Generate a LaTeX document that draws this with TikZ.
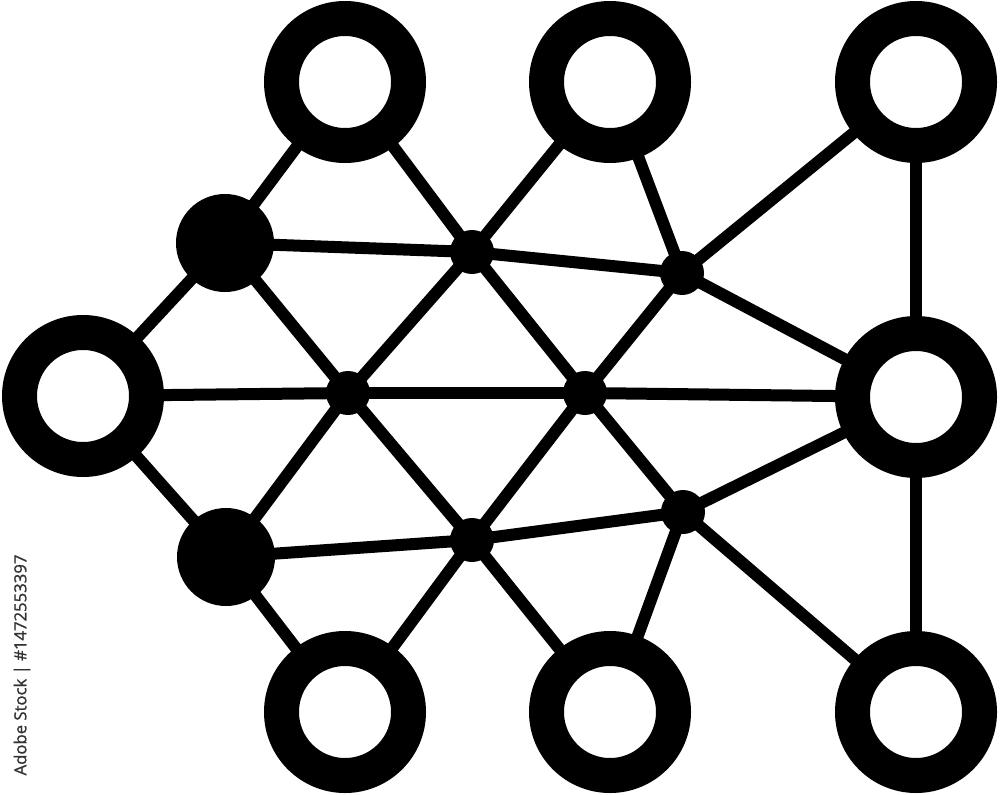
\documentclass[tikz,border=0pt]{standalone}
\usepackage{fontspec}
\newfontfamily\wmfont[FakeBold=1.2]{Open Sans}
\usetikzlibrary{backgrounds}
\begin{document}
\begin{tikzpicture}[x=0.2mm,y=-0.2mm, line join=round, line cap=round,
		ring/.style={circle,draw,fill=white,line width=7mm,minimum size=25.4mm,inner sep=0pt},
		hub/.style={circle,fill,minimum size=19.6mm,inner sep=0pt},
		dot/.style={circle,fill,minimum size=8.8mm,inner sep=0pt},
		link/.style={line width=2.4mm}]
	\useasboundingbox (0,0) rectangle (1000,795);
	% outer rings
	\node[ring] (T1) at (345,82) {};
	\node[ring] (T2) at (610,82) {};
	\node[ring] (T3) at (916,82) {};
	\node[ring] (L) at (83,396) {};
	\node[ring] (R) at (916,397) {};
	\node[ring] (B1) at (345,712) {};
	\node[ring] (B2) at (610,712) {};
	\node[ring] (B3) at (916,712) {};
	% filled hubs and small dots
	\node[hub] (F1) at (225,243) {};
	\node[hub] (F2) at (226,557) {};
	\node[dot] (D1) at (472,252) {};
	\node[dot] (D2) at (682,273) {};
	\node[dot] (D3) at (348,393) {};
	\node[dot] (D4) at (585,393) {};
	\node[dot] (D5) at (472,540) {};
	\node[dot] (D6) at (683,512) {};
	\begin{scope}[on background layer]
		\foreach \a/\b in {T1/F1,T1/D1,T2/D1,T2/D2,T3/D2,T3/R,F1/L,F1/D1,F1/D3,
			D1/D2,D1/D3,D1/D4,D2/D4,D2/R,L/D3,D3/D4,D4/R,L/F2,F2/D3,F2/D5,F2/B1,
			D3/D5,D4/D5,D4/D6,D5/D6,D6/R,D5/B1,D5/B2,D6/B2,D6/B3,R/B3}
		{\draw[link] (\a.center)--(\b.center);}
	\end{scope}
	\node[rotate=90,text=black!80,font=\wmfont\fontsize{9.5}{11}\selectfont] (wm) at (22,665) {Adobe Stock | \#1472553397};
\end{tikzpicture}
\end{document}
